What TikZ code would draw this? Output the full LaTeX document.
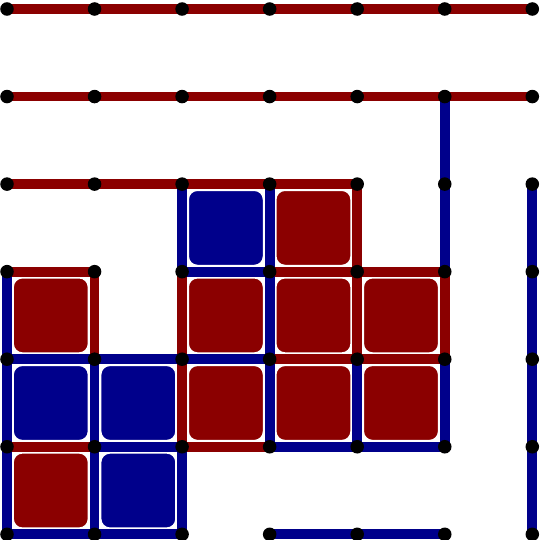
\documentclass[tikz,border=0pt]{standalone}
\usepackage{tikz}
\usetikzlibrary{backgrounds}

\definecolor{ownred}{RGB}{139,0,0}
\definecolor{ownblue}{RGB}{0,0,139}

\begin{document}
\begin{tikzpicture}[
        dotnode/.style={circle, fill=black, inner sep=0pt, minimum size=4.4pt},
        redline/.style={draw=ownred, line width=3.2pt},
        blueline/.style={draw=ownblue, line width=3.2pt},
        redbox/.style={rectangle, rounded corners=3pt, fill=ownred, draw=white, line width=0.5pt, minimum size=0.86cm, inner sep=0pt},
        bluebox/.style={rectangle, rounded corners=3pt, fill=ownblue, draw=white, line width=0.5pt, minimum size=0.86cm, inner sep=0pt}
        ]
        \useasboundingbox (-0.08,-0.065) rectangle (6.08,6.103);
        \foreach \x in {0,...,6}
            \foreach \y in {0,...,6}
                \node[dotnode] (d-\x-\y) at (\x,\y) {};

        \node[bluebox] (b-2-3) at (2.5,3.5) {};
        \node[redbox]  (b-3-3) at (3.5,3.5) {};
        \node[redbox]  (b-0-2) at (0.5,2.5) {};
        \node[redbox]  (b-2-2) at (2.5,2.5) {};
        \node[redbox]  (b-3-2) at (3.5,2.5) {};
        \node[redbox]  (b-4-2) at (4.5,2.5) {};
        \node[bluebox] (b-0-1) at (0.5,1.5) {};
        \node[bluebox] (b-1-1) at (1.5,1.5) {};
        \node[redbox]  (b-2-1) at (2.5,1.5) {};
        \node[redbox]  (b-3-1) at (3.5,1.5) {};
        \node[redbox]  (b-4-1) at (4.5,1.5) {};
        \node[redbox]  (b-0-0) at (0.5,0.5) {};
        \node[bluebox] (b-1-0) at (1.5,0.5) {};

        \begin{pgfonlayer}{background}
        \path[redline]
        (d-0-6.center) edge (d-1-6.center)
        (d-1-6.center) edge (d-2-6.center)
        (d-2-6.center) edge (d-3-6.center)
        (d-3-6.center) edge (d-4-6.center)
        (d-4-6.center) edge (d-5-6.center)
        (d-5-6.center) edge (d-6-6.center)
        (d-0-5.center) edge (d-1-5.center)
        (d-1-5.center) edge (d-2-5.center)
        (d-2-5.center) edge (d-3-5.center)
        (d-3-5.center) edge (d-4-5.center)
        (d-4-5.center) edge (d-5-5.center)
        (d-5-5.center) edge (d-6-5.center)
        (d-0-4.center) edge (d-1-4.center)
        (d-1-4.center) edge (d-2-4.center)
        (d-2-4.center) edge (d-3-4.center)
        (d-3-4.center) edge (d-4-4.center)
        (d-0-3.center) edge (d-1-3.center)
        (d-3-3.center) edge (d-4-3.center)
        (d-4-3.center) edge (d-5-3.center)
        (d-3-2.center) edge (d-4-2.center)
        (d-4-2.center) edge (d-5-2.center)
        (d-0-1.center) edge (d-1-1.center)
        (d-2-1.center) edge (d-3-1.center)
        (d-1-3.center) edge (d-1-2.center)
        (d-2-3.center) edge (d-2-2.center)
        (d-2-2.center) edge (d-2-1.center)
        (d-4-4.center) edge (d-4-3.center)
        (d-4-3.center) edge (d-4-2.center)
        (d-5-3.center) edge (d-5-2.center);
        \path[blueline]
        (d-2-3.center) edge (d-3-3.center)
        (d-0-2.center) edge (d-1-2.center)
        (d-1-2.center) edge (d-2-2.center)
        (d-2-2.center) edge (d-3-2.center)
        (d-1-1.center) edge (d-2-1.center)
        (d-3-1.center) edge (d-4-1.center)
        (d-4-1.center) edge (d-5-1.center)
        (d-0-0.center) edge (d-1-0.center)
        (d-1-0.center) edge (d-2-0.center)
        (d-3-0.center) edge (d-4-0.center)
        (d-4-0.center) edge (d-5-0.center)
        (d-0-3.center) edge (d-0-2.center)
        (d-0-2.center) edge (d-0-1.center)
        (d-0-1.center) edge (d-0-0.center)
        (d-1-2.center) edge (d-1-1.center)
        (d-1-1.center) edge (d-1-0.center)
        (d-2-4.center) edge (d-2-3.center)
        (d-2-1.center) edge (d-2-0.center)
        (d-3-4.center) edge (d-3-3.center)
        (d-3-3.center) edge (d-3-2.center)
        (d-3-2.center) edge (d-3-1.center)
        (d-4-2.center) edge (d-4-1.center)
        (d-5-5.center) edge (d-5-4.center)
        (d-5-4.center) edge (d-5-3.center)
        (d-5-2.center) edge (d-5-1.center)
        (d-6-4.center) edge (d-6-3.center)
        (d-6-3.center) edge (d-6-2.center)
        (d-6-2.center) edge (d-6-1.center)
        (d-6-1.center) edge (d-6-0.center);
        \end{pgfonlayer}
    \end{tikzpicture}
\end{document}
